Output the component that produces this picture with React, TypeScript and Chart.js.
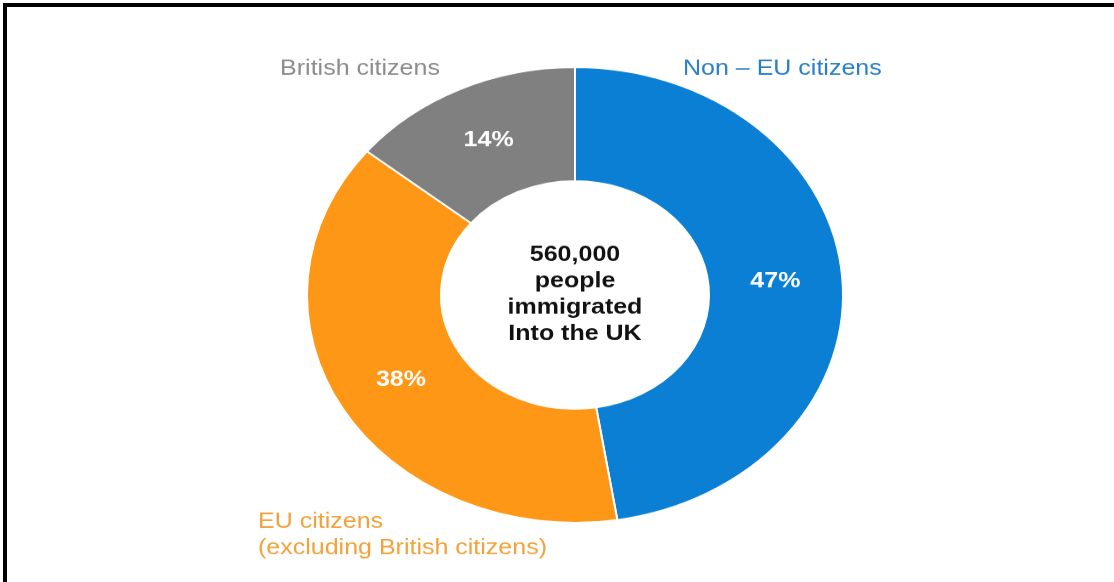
import React, { useEffect, useRef } from "react";
import { Chart, registerables } from "chart.js";

Chart.register(...registerables);

const categories = [
  "Non – EU citizens",
  "EU citizens (excluding British citizens)",
  "British citizens",
];
const shares = [47, 38, 14];
const shareLabels = ["47%", "38%", "14%"];
const segmentColors = ["#0a7fd4", "#fe9616", "#808080"];
const centerLines = ["560,000", "people", "immigrated", "Into the UK"];
const labelColors = ["#2a80c8", "#f3a13a", "#8c8c8c"];

const SQUASH = 0.85;
const W = 1114;
const H = 582;
const CH = Math.round(H / SQUASH);
const FONT = '"Liberation Sans", Arial, sans-serif';

export default function App() {
  const ref = useRef<HTMLCanvasElement>(null);

  useEffect(() => {
    document.body.style.margin = "0";
    if (!ref.current) return;

    const textPlugin = {
      id: "donutTexts",
      afterDatasetsDraw(chart: any) {
        const ctx = chart.ctx;
        const arcs = chart.getDatasetMeta(0).data;
        if (!arcs.length) return;
        const { x: cx, y: cy, outerRadius: R } = arcs[0].getProps(
          ["x", "y", "outerRadius"],
          true
        );
        ctx.save();
        ctx.textAlign = "center";
        ctx.textBaseline = "middle";
        // percentages on slices
        ctx.fillStyle = "#ffffff";
        ctx.font = `bold 25px ${FONT}`;
        arcs.forEach((a: any, i: number) => {
          const p = a.tooltipPosition(true);
          ctx.fillText(shareLabels[i], p.x, p.y);
        });
        // centre text
        ctx.fillStyle = "#111111";
        centerLines.forEach((t, i) => {
          ctx.fillText(t, cx, cy + (i - 1.5) * 31);
        });
        // outer category labels
        ctx.font = `25px ${FONT}`;
        ctx.fillStyle = labelColors[2];
        ctx.textAlign = "center";
        ctx.fillText(categories[2], cx - 215, cy - R + 2);
        ctx.fillStyle = labelColors[0];
        ctx.textAlign = "left";
        ctx.fillText(categories[0], cx + 108, cy - R + 2);
        ctx.fillStyle = labelColors[1];
        const parts = ["EU citizens", "(excluding British citizens)"];
        ctx.fillText(parts[0], cx - 317, cy + 267);
        ctx.fillText(parts[1], cx - 317, cy + 298);
        ctx.restore();
      },
    };

    const chart = new Chart(ref.current, {
      type: "doughnut",
      data: {
        labels: categories,
        datasets: [
          {
            data: shares,
            backgroundColor: segmentColors,
            borderColor: "#ffffff",
            borderWidth: 2,
          },
        ],
      },
      options: {
        responsive: false,
        animation: false,
        events: [],
        radius: 268,
        cutout: "50%",
        layout: { padding: { left: 40, right: 4, top: 10, bottom: 1 } },
        plugins: {
          legend: { display: false },
          tooltip: { enabled: false },
        },
      } as any,
      plugins: [textPlugin],
    });

    return () => chart.destroy();
  }, []);

  return (
    <div
      style={{
        position: "fixed",
        left: 0,
        top: 0,
        width: W,
        height: H,
        background: "#ffffff",
        overflow: "hidden",
      }}
    >
      <div
        style={{
          position: "absolute",
          left: 0,
          top: 0,
          width: W,
          height: CH,
          transform: `scaleY(${SQUASH})`,
          transformOrigin: "0 0",
        }}
      >
        <canvas ref={ref} width={W} height={CH} style={{ display: "block" }} />
      </div>
      <div
        style={{
          position: "absolute",
          left: 3,
          top: 3,
          right: 0,
          bottom: 0,
          borderTop: "4px solid #000",
          borderLeft: "4px solid #000",
          pointerEvents: "none",
        }}
      />
    </div>
  );
}
